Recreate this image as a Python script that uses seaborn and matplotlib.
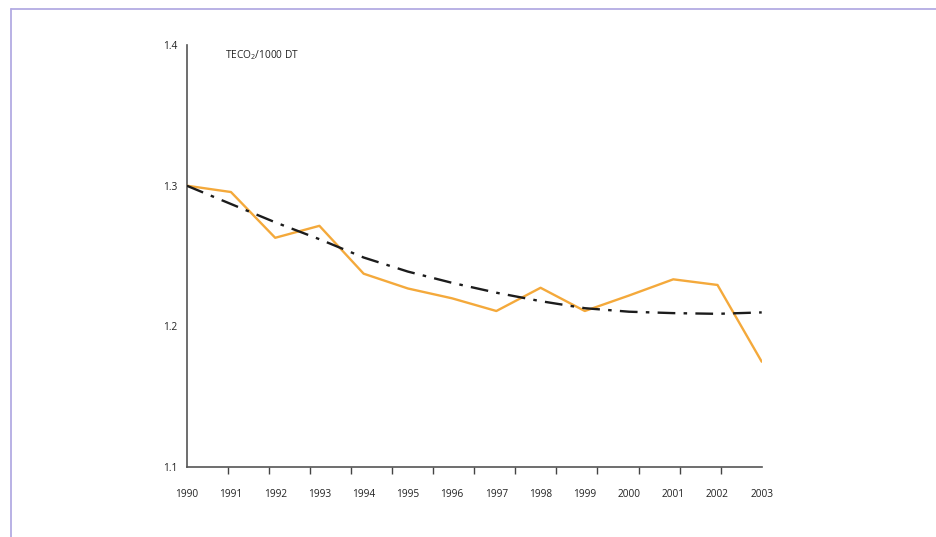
import numpy as np
import pandas as pd
import matplotlib
matplotlib.use("Agg")
import matplotlib.pyplot as plt
import seaborn as sns
from matplotlib.lines import Line2D

# Emissions intensity, tonnes of CO2 per 1000 DT
years = [1990, 1991, 1992, 1993, 1994, 1995, 1996,
         1997, 1998, 1999, 2000, 2001, 2002, 2003]
intensity = [1.300, 1.2955, 1.263, 1.2715, 1.2375, 1.227, 1.220,
             1.211, 1.2275, 1.211, 1.222, 1.2335, 1.2295, 1.175]
trend = [1.300, 1.287, 1.274, 1.262, 1.249, 1.239, 1.231,
         1.224, 1.218, 1.213, 1.2105, 1.2095, 1.209, 1.210]
y_ticks = [1.1, 1.2, 1.3, 1.4]
unit_label = "TECO$_2$/1000 DT"

df = pd.DataFrame({"year": years, "intensity": intensity, "trend": trend})

sns.set_theme(style="white")
plt.rcParams["font.family"] = ["Open Sans", "DejaVu Sans"]
plt.rcParams["mathtext.fontset"] = "custom"
plt.rcParams["mathtext.rm"] = "Open Sans"
plt.rcParams["mathtext.it"] = "Open Sans"

fig = plt.figure(figsize=(9.36, 5.37), dpi=100)
ax = fig.add_axes([0.1995, 0.1298, 0.6143, 0.7866])

sns.lineplot(data=df, x="year", y="intensity", ax=ax, color="#F4A93B",
             linewidth=1.7, zorder=3)
sns.lineplot(data=df, x="year", y="trend", ax=ax, color="#1c1c1c",
             linewidth=1.7, zorder=4, dashes=False)
ax.lines[-1].set_linestyle((0, (7.5, 3.5, 1.5, 3.5)))

ax.set_xlim(years[0], years[-1])
ax.set_ylim(y_ticks[0], y_ticks[-1])
ax.set_xlabel("")
ax.set_ylabel("")

fs = 7.3
ax.set_xticks(years)
ax.set_xticklabels([str(y) for y in years], fontsize=fs, color="#222222")
ax.set_xticks(np.linspace(years[0], years[-1], 15), minor=True)
ax.tick_params(axis="x", which="major", length=0, pad=15.5)
ax.tick_params(axis="x", which="minor", length=5, width=1.0,
               color="#444444", direction="out", bottom=True)

ax.set_yticks(y_ticks)
ax.set_yticklabels([f"{v:.1f}" for v in y_ticks], fontsize=fs, color="#222222")
ax.tick_params(axis="y", length=0, pad=7)

for side in ("top", "right"):
    ax.spines[side].set_visible(False)
for side in ("left", "bottom"):
    ax.spines[side].set_color("#555555")
    ax.spines[side].set_linewidth(1.2)

ax.text(0.066, 0.975, unit_label, transform=ax.transAxes, fontsize=fs,
        color="#222222", ha="left", va="center")

# Page frame lines
fig.add_artist(Line2D([10.5 / 936, 1.0], [1 - 9.3 / 537, 1 - 9.3 / 537],
                      transform=fig.transFigure, color="#b3abe3", linewidth=1.3))
fig.add_artist(Line2D([10.5 / 936, 10.5 / 936], [0.0, 1 - 9.3 / 537],
                      transform=fig.transFigure, color="#b3abe3", linewidth=1.3))

fig.savefig("out.png", dpi=100, facecolor="white")
